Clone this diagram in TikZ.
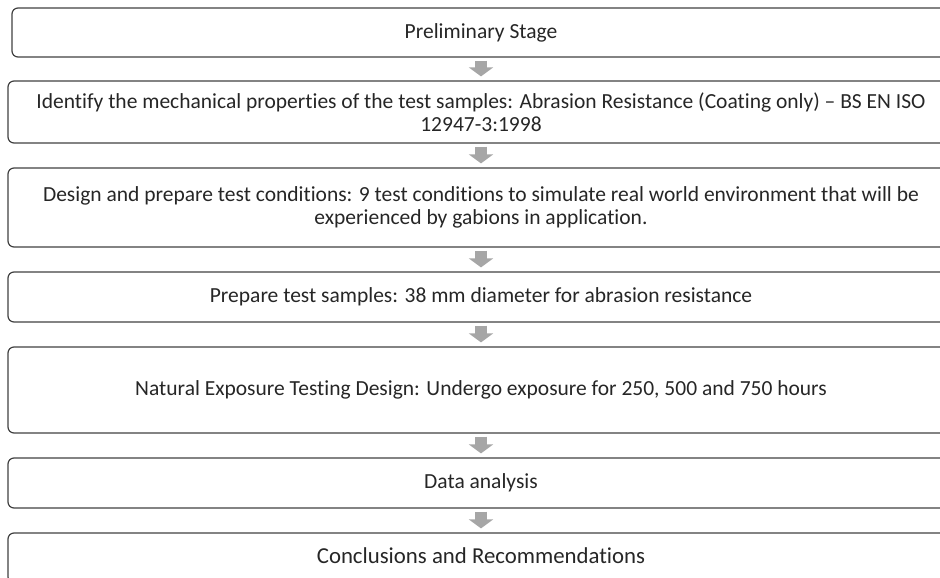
\documentclass[tikz,border=0pt]{standalone}
\usepackage{fontspec}
\setmainfont{Carlito}[Ligatures=NoCommon]
\usepackage{xcolor}
\usepackage{tikz}
\usetikzlibrary{arrows.meta}
\definecolor{boxline}{HTML}{404040}
\definecolor{textgray}{HTML}{262626}
\definecolor{arrowgray}{HTML}{A6A6A6}

\begin{document}
\begin{tikzpicture}[x=1pt, y=-1pt,
    every node/.style={draw=boxline, line width=1.2pt, rounded corners=6pt, align=center,
        text=textgray, font=\fontsize{21.5}{23.5}\selectfont, minimum width=946pt, inner sep=0pt},
    flowarrow/.style={draw=arrowgray, line width=12pt, shorten <=3pt, shorten >=4pt,
        -{Triangle[width=24pt, length=9pt]}}]
    \useasboundingbox (0,0) rectangle (940,578);
    \clip (0,0) rectangle (940,578);
    \node (prelim) [minimum width=938pt, minimum height=49pt] at (481,32.5) {Preliminary Stage};
    \node (identify) [minimum height=62pt] at (481,112) {Identify the mechanical properties of the test samples: Abrasion Resistance (Coating only) -- BS EN ISO\\12947-3:1998};
    \node (design) [minimum height=79pt] at (481,207.5) {Design and prepare test conditions: 9 test conditions to simulate real world environment that will be\\experienced by gabions in application.};
    \node (prepare) [minimum height=50pt] at (481,297) {Prepare test samples: 38 mm diameter for abrasion resistance};
    \node (exposure) [minimum height=86pt] at (481,390) {Natural Exposure Testing Design: Undergo exposure for 250, 500 and 750 hours};
    \node (analysis) [minimum height=50pt] at (481,483) {Data analysis};
    \node (conclude) [minimum height=50pt, font=\fontsize{22.8}{26}\selectfont] at (481,558) {\raisebox{5pt}{Conclusions and Recommendations}};
    \draw[flowarrow] (prelim) -- (identify);
    \draw[flowarrow] (identify) -- (design);
    \draw[flowarrow] (design) -- (prepare);
    \draw[flowarrow] (prepare) -- (exposure);
    \draw[flowarrow] (exposure) -- (analysis);
    \draw[flowarrow] (analysis) -- (conclude);
\end{tikzpicture}
\end{document}
